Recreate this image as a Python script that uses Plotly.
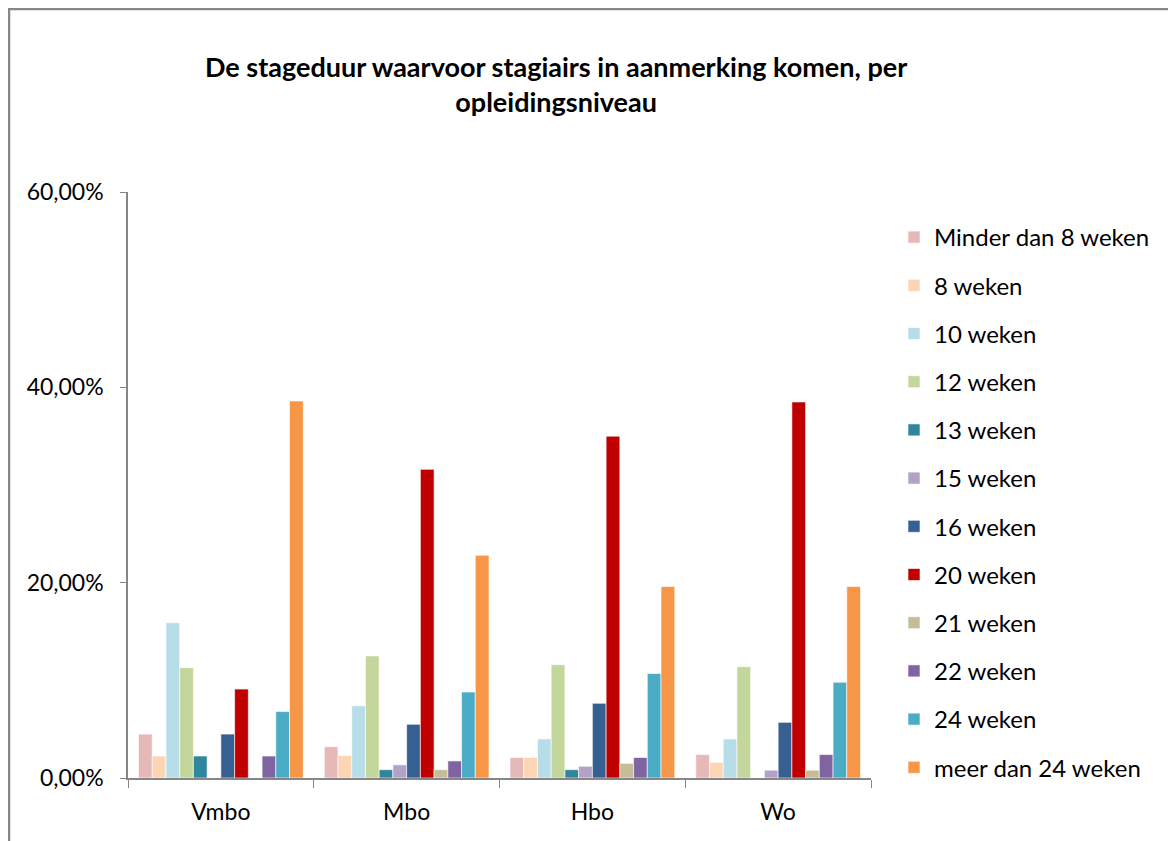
import plotly.graph_objects as go

categories = ["Vmbo", "Mbo", "Hbo", "Wo"]
series_names = ["Minder dan 8 weken", "8 weken", "10 weken", "12 weken", "13 weken",
                "15 weken", "16 weken", "20 weken", "21 weken", "22 weken",
                "24 weken", "meer dan 24 weken"]
# percentages per series for Vmbo, Mbo, Hbo, Wo
minder_8 = [4.5, 3.2, 2.1, 2.4]
w8 = [2.25, 2.3, 2.1, 1.6]
w10 = [15.9, 7.4, 4.0, 4.0]
w12 = [11.3, 12.5, 11.6, 11.4]
w13 = [2.25, 0.85, 0.85, 0.0]
w15 = [0.0, 1.35, 1.2, 0.8]
w16 = [4.5, 5.5, 7.65, 5.7]
w20 = [9.1, 31.6, 35.0, 38.5]
w21 = [0.0, 0.85, 1.5, 0.8]
w22 = [2.25, 1.75, 2.1, 2.4]
w24 = [6.8, 8.8, 10.7, 9.8]
meer_24 = [38.6, 22.8, 19.6, 19.6]
series_values = [minder_8, w8, w10, w12, w13, w15, w16, w20, w21, w22, w24, meer_24]
colors = ["#E6B9B8", "#FCD5B5", "#B7DEE8", "#C3D69B", "#31859C", "#B3A2C7",
          "#366092", "#C00000", "#C4BD97", "#8064A2", "#4BACC6", "#F79646"]
y_ticks = [0, 0.2, 0.4, 0.6]

FONT = "Lato, Calibri, sans-serif"

fig = go.Figure()
for name, vals, col in zip(series_names, series_values, colors):
    fig.add_trace(go.Bar(
        x=categories, y=[v / 100 for v in vals], name=name,
        marker=dict(color=col, line=dict(color="white", width=0.6)),
        legendgroup=name,
    ))

# page body has an 8px margin; work in reference-screen coordinates
OFF = 8
W, H = 1176 - OFF, 841 - OFF
L, R, T, B = 128, 871, 192, 778          # plot area in screen coords
pw, ph = R - L, B - T

def px(X):
    return (X - L) / pw

def py(Y):
    return (B - Y) / ph

fig.update_layout(
    width=W, height=H,
    margin=dict(l=L - OFF, r=(W + OFF) - R, t=T - OFF, b=(H + OFF) - B, pad=0),
    paper_bgcolor="white", plot_bgcolor="white",
    barmode="group", bargap=0.113, bargroupgap=0,
    separators=",.",
    font=dict(family=FONT, size=23, color="#000000"),
    showlegend=True,
    legend=dict(x=px(894), y=py(215), xanchor="left", yanchor="top",
                font=dict(family=FONT, size=24, color="#000000"),
                tracegroupgap=14, itemwidth=30, bgcolor="rgba(0,0,0,0)",
                maxheight=760),
    xaxis=dict(range=[-0.5, 3.5], showline=True, linecolor="#868686", linewidth=1.5,
               ticks="outside", tickson="boundaries", ticklen=8, tickcolor="#868686",
               tickfont=dict(family=FONT, size=23), showgrid=False, zeroline=False,
               ticklabelstandoff=13, fixedrange=True),
    yaxis=dict(range=[0, 0.6], tickvals=y_ticks, tickformat=".2%",
               showline=True, linecolor="#868686", linewidth=1.5,
               ticks="outside", ticklen=6, tickcolor="#868686",
               tickfont=dict(family=FONT, size=23), showgrid=False, zeroline=False,
               ticklabelstandoff=12, fixedrange=True),
    annotations=[dict(
        text="<b>De stageduur waarvoor stagiairs in aanmerking komen, per<br>opleidingsniveau</b>",
        x=px(556), y=py(84), xref="paper", yref="paper", xanchor="center", yanchor="middle",
        showarrow=False, font=dict(family=FONT, size=27, color="#000000"), align="center")],
    shapes=[dict(type="rect", xref="paper", yref="paper",
                 x0=px(9), y0=py(860), x1=px(1200), y1=py(9),
                 line=dict(color="#868686", width=2.5), fillcolor="rgba(0,0,0,0)", layer="below")],
)

fig.write_html("out.html")
